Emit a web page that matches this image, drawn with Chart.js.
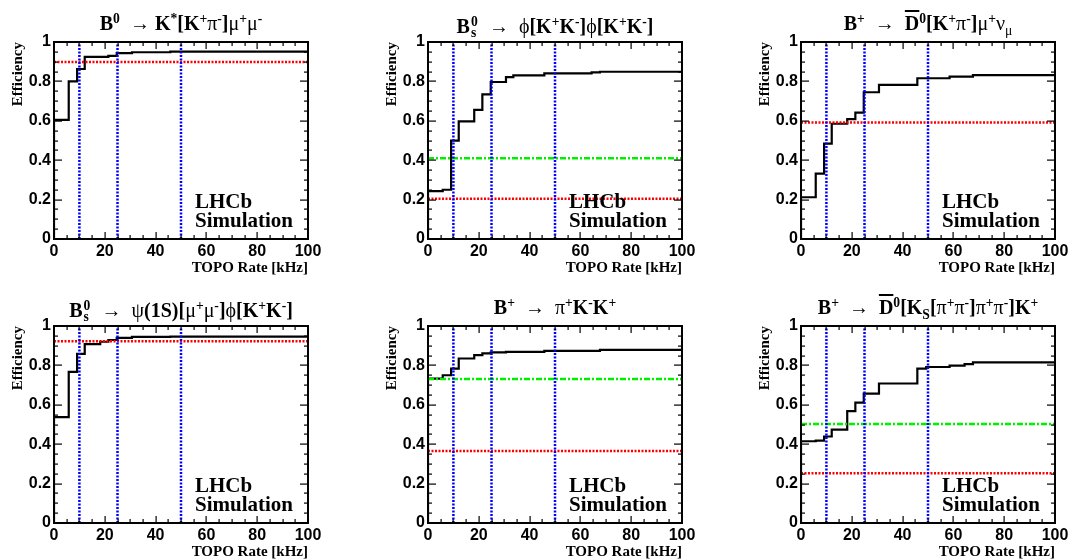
<!DOCTYPE html>
<html>
<head>
<meta charset="utf-8">
<script src="https://cdn.jsdelivr.net/npm/chart.js@4.4.1/dist/chart.umd.min.js"></script>
<style>
body { margin: 0; background: #fff; }
#wrap { position: relative; width: 1073px; height: 560px; overflow: hidden; background: #fff; }
.panel { position: absolute; width: 326px; height: 276px; }
.panel canvas { position: absolute; left: 0; top: 0; }
.title { position: absolute; left: 54px; width: 254px; top: 13px; text-align: center;
  font-family: "Liberation Serif", serif; font-weight: bold; font-size: 20px; line-height: 20px;
  white-space: nowrap; color: #000; }
.title sup, .title sub { font-size: 0.68em; vertical-align: 0; position: relative; line-height: 0; }
.title sup { top: -0.55em; }
.title sub { top: 0.35em; }
.g { font-weight: normal; }
.bar { text-decoration: overline; text-decoration-thickness: 1.5px; }
.ss { display: inline-block; position: relative; width: 9px; height: 20px; }
.ss span { position: absolute; left: 1px; font-size: 13.6px; line-height: 13.6px; }
.ss .a { top: 2px; }
.ss .b { top: 13px; }
</style>
</head>
<body>
<div id="wrap"></div>
<script>
// TOPO rate thresholds (kHz) where the efficiency curve steps
const rateEdges = [0, 5.8, 9.1, 12.1, 18.2, 21.4, 24.7, 30.7, 33.6, 45.8, 49.3, 58.5, 64.4, 67.7];

// efficiency after each threshold, one array per decay channel
const effB0KstMuMu  = [0.605, 0.800, 0.863, 0.924, 0.924, 0.930, 0.944, 0.948, 0.948, 0.951, 0.951, 0.951, 0.951, 0.951];
const effBsPhiPhi   = [0.243, 0.250, 0.499, 0.597, 0.655, 0.734, 0.797, 0.822, 0.831, 0.841, 0.841, 0.841, 0.846, 0.849];
const effBuD0MuNu   = [0.212, 0.332, 0.484, 0.585, 0.609, 0.641, 0.745, 0.782, 0.782, 0.816, 0.816, 0.824, 0.824, 0.832];
const effBsJpsiPhi  = [0.537, 0.767, 0.859, 0.908, 0.920, 0.929, 0.940, 0.945, 0.945, 0.946, 0.946, 0.946, 0.946, 0.946];
const effBuPiKK     = [0.733, 0.750, 0.784, 0.835, 0.852, 0.861, 0.866, 0.869, 0.869, 0.874, 0.874, 0.874, 0.874, 0.879];
const effBuD0K      = [0.415, 0.418, 0.439, 0.474, 0.568, 0.611, 0.657, 0.708, 0.708, 0.784, 0.792, 0.799, 0.806, 0.815];

// reference levels (red dotted, green dash-dot) and rate working points (blue)
const redLevels   = [0.898, 0.204, 0.592, 0.923, 0.366, 0.253];
const greenLevels = [null, 0.410, null, null, 0.731, 0.502];
const cutRates    = [10, 25, 50];

const titles = [
  'B<sup>0</sup>&nbsp;&nbsp;<span class="g">→</span> K<sup>*</sup>[K<sup>+</sup><span class="g">π</span><sup>-</sup>]<span class="g">μ</span><sup>+</sup><span class="g">μ</span><sup>-</sup>',
  'B<span class="ss"><span class="a">0</span><span class="b">s</span></span>&nbsp;&nbsp;<span class="g">→</span>&nbsp; <span class="g">ϕ</span>[K<sup>+</sup>K<sup>-</sup>]<span class="g">ϕ</span>[K<sup>+</sup>K<sup>-</sup>]',
  'B<sup>+</sup>&nbsp;&nbsp;<span class="g">→</span>&nbsp; <span class="bar">D</span><sup>0</sup>[K<sup>+</sup><span class="g">π</span><sup>-</sup>]<span class="g">μ</span><sup>+</sup><span class="g">ν</span><sub class="g">μ</sub>',
  'B<span class="ss"><span class="a">0</span><span class="b">s</span></span>&nbsp;&nbsp;<span class="g">→</span>&nbsp; <span class="g">ψ</span>(1S)[<span class="g">μ</span><sup>+</sup><span class="g">μ</span><sup>-</sup>]<span class="g">ϕ</span>[K<sup>+</sup>K<sup>-</sup>]',
  'B<sup>+</sup>&nbsp;&nbsp;<span class="g">→</span>&nbsp; <span class="g">π</span><sup>+</sup>K<sup>-</sup>K<sup>+</sup>',
  'B<sup>+</sup>&nbsp;&nbsp;<span class="g">→</span>&nbsp; <span class="bar">D</span><sup>0</sup>[K<sub>S</sub>[<span class="g">π</span><sup>+</sup><span class="g">π</span><sup>-</sup>]<span class="g">π</span><sup>+</sup><span class="g">π</span><sup>-</sup>]K<sup>+</sup>'
];

const allEff = [effB0KstMuMu, effBsPhiPhi, effBuD0MuNu, effBsJpsiPhi, effBuPiKK, effBuD0K];
const colLeft = [0, 374, 747];
const rowTop = [0, 284];

// ROOT style frame with inward ticks on all sides, plus the LHCb label
const rootFrame = {
  id: 'rootFrame',
  afterDraw(chart) {
    const ctx = chart.ctx;
    const a = chart.chartArea;
    const x = chart.scales.x, y = chart.scales.y;
    const L = Math.round(a.left), R = Math.round(a.right);
    const T = Math.round(a.top), B = Math.round(a.bottom);
    ctx.save();
    ctx.fillStyle = '#000';
    for (let k = 1; k < 20; k++) {
      const px = Math.round(x.getPixelForValue(k * 5));
      const len = k % 4 === 0 ? 7 : 4;
      ctx.fillRect(px - 0.5, B - len, 1.2, len);
      ctx.fillRect(px - 0.5, T, 1.2, len);
    }
    for (let k = 1; k < 20; k++) {
      const py = Math.round(y.getPixelForValue(k / 20));
      const len = k % 4 === 0 ? 8 : 4;
      ctx.fillRect(L, py - 0.5, len, 1.2);
      ctx.fillRect(R - len, py - 0.5, len, 1.2);
    }
    ctx.strokeStyle = '#000';
    ctx.setLineDash([]);
    ctx.lineWidth = 2;
    ctx.strokeRect(L, T, R - L, B - T);

    ctx.font = 'bold 21px "Liberation Serif"';
    ctx.textBaseline = 'alphabetic';
    ctx.textAlign = 'left';
    ctx.fillText('LHCb', x.getPixelForValue(55.5), y.getPixelForValue(0.157));
    ctx.fillText('Simulation', x.getPixelForValue(55.5), y.getPixelForValue(0.061));
    ctx.restore();
  }
};

function makePanel(i) {
  const wrap = document.getElementById('wrap');
  const div = document.createElement('div');
  div.className = 'panel';
  div.style.left = colLeft[i % 3] + 'px';
  div.style.top = rowTop[Math.floor(i / 3)] + 'px';
  const canvas = document.createElement('canvas');
  canvas.width = 326;
  canvas.height = 276;
  div.appendChild(canvas);
  const t = document.createElement('div');
  t.className = 'title';
  t.innerHTML = titles[i];
  div.appendChild(t);
  wrap.appendChild(div);

  const eff = allEff[i];
  const curve = [{x: 0, y: 0}];
  rateEdges.forEach((r, j) => curve.push({x: r, y: eff[j]}));
  curve.push({x: 100, y: eff[eff.length - 1]});

  const datasets = [];
  cutRates.forEach(r => {
    datasets.push({
      data: [{x: r, y: 0}, {x: r, y: 1}],
      borderColor: '#0000ff', borderWidth: 2.5, borderDash: [2, 1.5],
      pointRadius: 0, order: 1
    });
  });
  datasets.push({
    data: [{x: 0, y: redLevels[i]}, {x: 100, y: redLevels[i]}],
    borderColor: '#ff0000', borderWidth: 2.5, borderDash: [2, 1.5],
    pointRadius: 0, order: 2
  });
  if (greenLevels[i] !== null) {
    datasets.push({
      data: [{x: 0, y: greenLevels[i]}, {x: 100, y: greenLevels[i]}],
      borderColor: '#00f000', borderWidth: 2.5, borderDash: [6, 2, 2, 2],
      pointRadius: 0, order: 2
    });
  }
  datasets.push({
    data: curve, stepped: true,
    borderColor: '#000', borderWidth: 2.2,
    borderCapStyle: 'butt', borderJoinStyle: 'miter',
    pointRadius: 0, order: 3
  });

  new Chart(canvas, {
    type: 'line',
    data: {datasets: datasets},
    options: {
      responsive: false,
      animation: false,
      events: [],
      layout: {padding: {top: 42, right: 18, left: 0, bottom: 0}},
      plugins: {legend: {display: false}, tooltip: {enabled: false}, title: {display: false}},
      scales: {
        x: {
          type: 'linear', min: 0, max: 100,
          grid: {display: false, drawTicks: false}, border: {display: false},
          ticks: {
            stepSize: 20, autoSkip: false, maxRotation: 0, padding: 3, color: '#000',
            font: {family: '"Liberation Sans"', weight: 'bold', size: 16}
          },
          title: {
            display: true, text: 'TOPO Rate [kHz]', align: 'end', color: '#000',
            padding: 0, font: {family: '"Liberation Serif"', weight: 'bold', size: 15, lineHeight: 1}
          },
          afterFit(scale) { scale.height = 37; }
        },
        y: {
          min: 0, max: 1,
          grid: {display: false, drawTicks: false}, border: {display: false},
          ticks: {
            stepSize: 0.2, padding: 3, color: '#000',
            font: {family: '"Liberation Sans"', weight: 'bold', size: 16},
            callback: v => String(+v.toFixed(1))
          },
          title: {
            display: true, text: 'Efficiency', align: 'end', color: '#000',
            padding: {top: 11, bottom: 0}, font: {family: '"Liberation Serif"', weight: 'bold', size: 15, lineHeight: 1}
          },
          afterFit(scale) { scale.width = 54; }
        }
      }
    },
    plugins: [rootFrame]
  });
}

for (let i = 0; i < 6; i++) makePanel(i);
</script>
</body>
</html>
